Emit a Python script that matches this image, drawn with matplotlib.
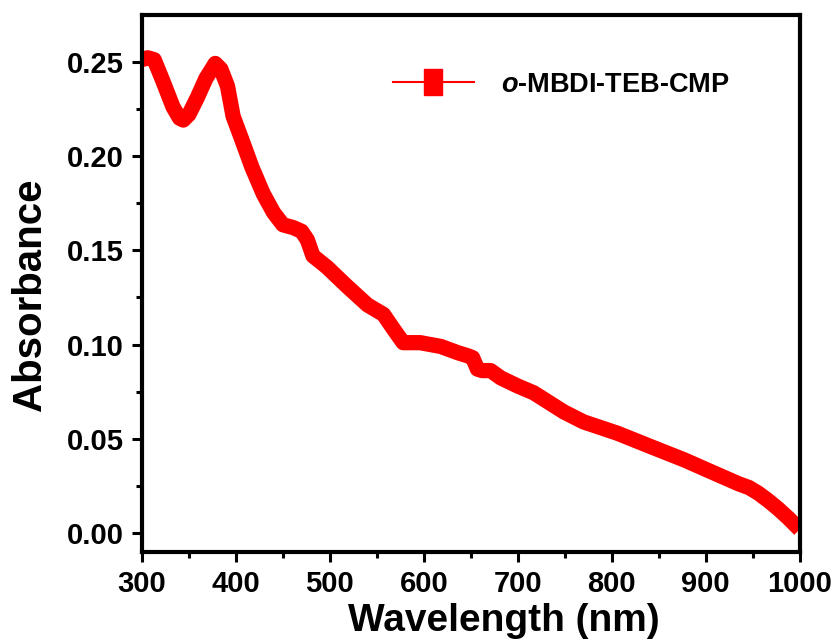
import matplotlib
matplotlib.use('Agg')
import matplotlib.pyplot as plt
from matplotlib.lines import Line2D
from matplotlib.ticker import MultipleLocator

plt.rcParams['font.family'] = ['Liberation Sans', 'DejaVu Sans']
plt.rcParams['font.weight'] = 'bold'
plt.rcParams['mathtext.fontset'] = 'custom'
plt.rcParams['mathtext.it'] = 'Liberation Sans:italic:bold'
plt.rcParams['mathtext.rm'] = 'Liberation Sans:bold'

# UV-vis absorbance
wavelength = [300, 306, 313, 322, 333, 340, 344, 350, 359, 368,
              378, 384, 391, 397, 406, 417, 429, 440, 450, 461,
              470, 476, 482, 497, 518, 540, 557, 568, 578, 596,
              618, 636, 647, 652, 657, 662, 671, 682, 700, 717,
              749, 770, 806, 842, 877, 913, 935, 946, 956, 966,
              977, 988, 1000]
absorbance = [0.251, 0.252, 0.251, 0.240, 0.226, 0.220, 0.219, 0.222, 0.231, 0.241,
              0.249, 0.246, 0.237, 0.221, 0.209, 0.194, 0.180, 0.170, 0.1635, 0.162,
              0.160, 0.1555, 0.147, 0.141, 0.131, 0.121, 0.116, 0.108, 0.101, 0.101,
              0.099, 0.0957, 0.094, 0.093, 0.087, 0.0862, 0.0862, 0.0823, 0.078, 0.0744,
              0.0643, 0.059, 0.053, 0.0458, 0.0389, 0.031, 0.0262, 0.0242, 0.0212, 0.0175,
              0.013, 0.008, 0.002]
series_label = r'$\it{o}$-MBDI-TEB-CMP'
x_ticks = [300, 400, 500, 600, 700, 800, 900, 1000]
y_ticks = [0.00, 0.05, 0.10, 0.15, 0.20, 0.25]

fig = plt.figure(figsize=(8.4, 6.43), dpi=100)
ax = fig.add_axes([0.169, 0.142, 0.783, 0.835])

ax.plot(wavelength, absorbance, color='#ff0000', lw=11, solid_joinstyle='round',
        solid_capstyle='butt')

ax.set_xlim(300, 1000)
ax.set_ylim(-0.0098, 0.2748)
ax.set_xticks(x_ticks)
ax.set_yticks(y_ticks)
ax.set_yticklabels(['%.2f' % v for v in y_ticks])
ax.xaxis.set_minor_locator(MultipleLocator(50))
ax.yaxis.set_minor_locator(MultipleLocator(0.025))

for s in ax.spines.values():
    s.set_linewidth(3)
ax.tick_params(which='major', direction='out', length=7, width=2.2, labelsize=21, pad=6)
ax.tick_params(which='minor', direction='out', length=4, width=2.2)
ax.tick_params(top=False, right=False, which='both')

ax.set_xlabel('Wavelength (nm)', fontsize=28, fontweight='bold')
ax.set_ylabel('Absorbance', fontsize=29, fontweight='bold')
ax.xaxis.set_label_coords(0.55, -0.095)
ax.yaxis.set_label_coords(-0.141, 0.478)

rect = [(-0.33, -0.5), (0.33, -0.5), (0.33, 0.5), (-0.33, 0.5), (-0.33, -0.5)]
handle = Line2D([], [], color='#ff0000', lw=1.5, marker=rect, markersize=19,
                markerfacecolor='#ff0000', markeredgecolor='#ff0000')
ax.legend(handles=[handle], labels=[series_label], frameon=False, loc='center left',
          bbox_to_anchor=(0.381, 0.87), fontsize=19.5, handlelength=3.0,
          handletextpad=1.0, borderpad=0, borderaxespad=0)

fig.savefig('out.png', dpi=100)
